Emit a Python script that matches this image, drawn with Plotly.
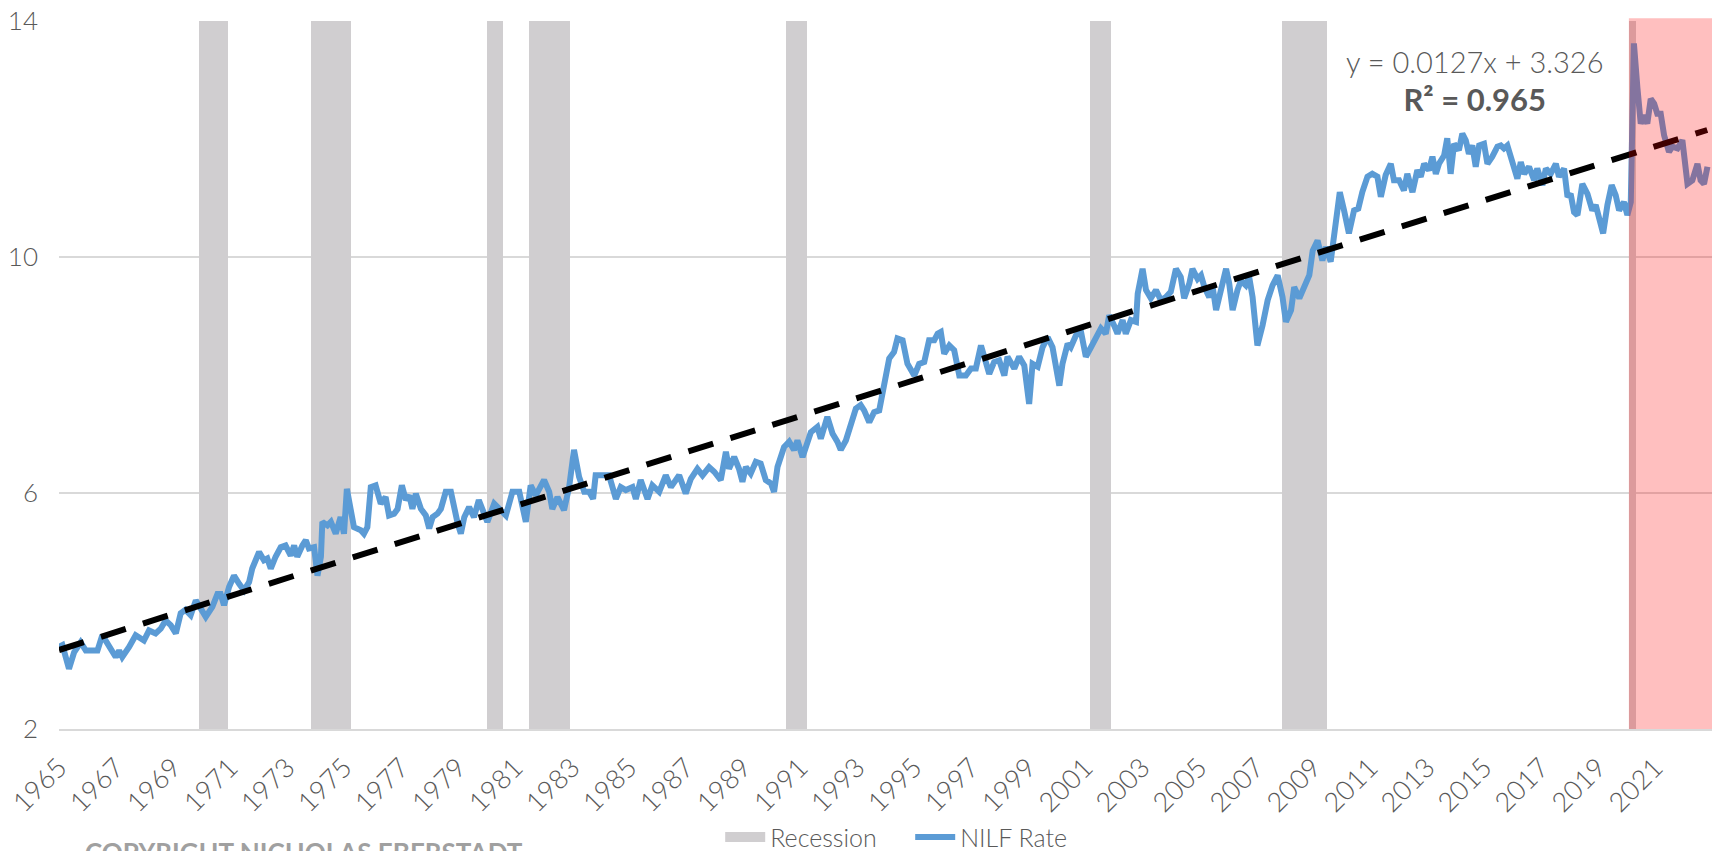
import plotly.graph_objects as go

# ---------------- data ----------------
nilf_dates = [
    1965.00, 1965.12, 1965.35, 1965.53, 1965.76, 1965.94, 1966.17, 1966.35, 1966.52, 1966.70,
    1966.99, 1967.11, 1967.22, 1967.46, 1967.69, 1967.98, 1968.16, 1968.39, 1968.57, 1968.74,
    1968.92, 1969.10, 1969.27, 1969.44, 1969.62, 1969.80, 1969.97, 1970.15, 1970.38, 1970.56,
    1970.67, 1970.79, 1970.97, 1971.14, 1971.32, 1971.49, 1971.67, 1971.78, 1972.02, 1972.19,
    1972.31, 1972.43, 1972.60, 1972.78, 1972.95, 1973.13, 1973.25, 1973.36, 1973.54, 1973.66,
    1973.77, 1973.95, 1974.07, 1974.19, 1974.24, 1974.42, 1974.54, 1974.71, 1974.88, 1975.00,
    1975.10, 1975.24, 1975.35, 1975.59, 1975.70, 1975.82, 1975.94, 1976.11, 1976.29, 1976.46,
    1976.58, 1976.76, 1976.88, 1977.03, 1977.17, 1977.29, 1977.40, 1977.52, 1977.70, 1977.87,
    1977.99, 1978.11, 1978.28, 1978.40, 1978.57, 1978.75, 1978.87, 1978.99, 1979.10, 1979.22,
    1979.39, 1979.56, 1979.73, 1980.03, 1980.27, 1980.50, 1980.68, 1980.91, 1981.15, 1981.38,
    1981.55, 1981.73, 1982.02, 1982.20, 1982.31, 1982.49, 1982.72, 1982.90, 1983.07, 1983.25,
    1983.43, 1983.60, 1983.74, 1983.83, 1984.07, 1984.30, 1984.54, 1984.71, 1984.89, 1985.12,
    1985.24, 1985.41, 1985.65, 1985.82, 1986.06, 1986.29, 1986.47, 1986.64, 1986.76, 1986.99,
    1987.17, 1987.40, 1987.58, 1987.81, 1987.99, 1988.22, 1988.40, 1988.51, 1988.69, 1988.86,
    1988.98, 1989.10, 1989.27, 1989.45, 1989.62, 1989.80, 1989.98, 1990.09, 1990.21, 1990.44,
    1990.62, 1990.79, 1990.91, 1991.09, 1991.26, 1991.38, 1991.61, 1991.73, 1991.96, 1992.14,
    1992.31, 1992.43, 1992.61, 1992.78, 1992.96, 1993.13, 1993.25, 1993.43, 1993.60, 1993.78,
    1993.95, 1994.13, 1994.30, 1994.42, 1994.60, 1994.77, 1995.01, 1995.18, 1995.36, 1995.53,
    1995.71, 1995.83, 1995.94, 1996.06, 1996.24, 1996.41, 1996.59, 1996.82, 1997.00, 1997.17,
    1997.35, 1997.46, 1997.64, 1997.81, 1997.99, 1998.17, 1998.28, 1998.52, 1998.69, 1998.87,
    1999.04, 1999.16, 1999.34, 1999.51, 1999.69, 1999.86, 1999.98, 2000.10, 2000.21, 2000.39,
    2000.50, 2000.68, 2000.86, 2001.03, 2001.21, 2001.38, 2001.56, 2001.73, 2001.85, 2002.02,
    2002.14, 2002.32, 2002.43, 2002.61, 2002.79, 2002.85, 2003.02, 2003.14, 2003.31, 2003.49,
    2003.66, 2003.84, 2004.01, 2004.19, 2004.36, 2004.48, 2004.66, 2004.77, 2004.95, 2005.07,
    2005.19, 2005.36, 2005.48, 2005.60, 2005.77, 2005.95, 2006.06, 2006.18, 2006.35, 2006.47,
    2006.64, 2006.76, 2006.88, 2007.05, 2007.23, 2007.41, 2007.58, 2007.76, 2007.93, 2008.05,
    2008.23, 2008.34, 2008.52, 2008.69, 2008.87, 2008.99, 2009.16, 2009.33, 2009.45, 2009.62,
    2009.80, 2009.94, 2010.09, 2010.26, 2010.44, 2010.59, 2010.73, 2010.91, 2011.08, 2011.26,
    2011.38, 2011.55, 2011.73, 2011.84, 2012.02, 2012.19, 2012.31, 2012.49, 2012.66, 2012.78,
    2012.90, 2013.07, 2013.19, 2013.31, 2013.42, 2013.60, 2013.71, 2013.83, 2013.95, 2014.12,
    2014.24, 2014.36, 2014.47, 2014.59, 2014.71, 2014.83, 2015.00, 2015.12, 2015.29, 2015.47,
    2015.59, 2015.70, 2015.82, 2016.00, 2016.17, 2016.29, 2016.41, 2016.58, 2016.76, 2016.87,
    2017.05, 2017.17, 2017.34, 2017.52, 2017.63, 2017.81, 2017.93, 2018.04, 2018.16, 2018.28,
    2018.45, 2018.63, 2018.80, 2018.92, 2019.04, 2019.18, 2019.33, 2019.48, 2019.62, 2019.74,
    2019.91, 2020.03, 2020.15, 2020.26, 2020.38, 2020.50, 2020.62, 2020.73, 2020.85, 2020.97,
    2021.08, 2021.20, 2021.32, 2021.49, 2021.61, 2021.79, 2021.96, 2022.14, 2022.31, 2022.49,
    2022.60, 2022.72, 2022.84,
]
nilf_values = [
    3.39, 3.42, 3.02, 3.30, 3.47, 3.33, 3.33, 3.33, 3.59, 3.45,
    3.22, 3.33, 3.22, 3.39, 3.59, 3.50, 3.67, 3.62, 3.70, 3.84,
    3.76, 3.62, 3.96, 4.02, 3.93, 4.18, 4.04, 3.90, 4.07, 4.29,
    4.29, 4.10, 4.41, 4.60, 4.46, 4.35, 4.49, 4.72, 5.00, 4.86,
    4.89, 4.72, 4.92, 5.08, 5.11, 4.94, 5.11, 4.92, 5.11, 5.20,
    5.06, 5.08, 4.60, 4.92, 5.51, 5.45, 5.51, 5.31, 5.59, 5.31,
    6.07, 5.71, 5.42, 5.37, 5.31, 5.42, 6.10, 6.13, 5.82, 5.93,
    5.62, 5.65, 5.73, 6.13, 5.88, 5.96, 5.73, 5.99, 5.73, 5.62,
    5.40, 5.59, 5.65, 5.73, 6.02, 6.02, 5.73, 5.48, 5.31, 5.59,
    5.76, 5.59, 5.88, 5.51, 5.82, 5.71, 5.62, 6.02, 6.02, 5.51,
    6.13, 5.96, 6.22, 6.02, 5.73, 5.93, 5.71, 6.10, 6.73, 6.27,
    6.02, 6.02, 5.90, 6.30, 6.30, 6.30, 5.90, 6.10, 6.05, 6.10,
    5.90, 6.22, 5.90, 6.13, 6.02, 6.30, 6.10, 6.22, 6.30, 5.99,
    6.24, 6.41, 6.30, 6.44, 6.36, 6.22, 6.70, 6.41, 6.61, 6.41,
    6.19, 6.44, 6.33, 6.53, 6.50, 6.22, 6.16, 6.02, 6.44, 6.78,
    6.87, 6.73, 6.89, 6.61, 6.87, 7.03, 7.12, 6.92, 7.29, 7.01,
    6.87, 6.73, 6.89, 7.18, 7.43, 7.49, 7.40, 7.20, 7.37, 7.40,
    7.80, 8.28, 8.39, 8.62, 8.59, 8.19, 7.99, 8.19, 8.22, 8.59,
    8.59, 8.70, 8.73, 8.36, 8.50, 8.42, 7.99, 7.99, 8.11, 8.11,
    8.50, 8.31, 8.02, 8.22, 8.25, 7.99, 8.31, 8.11, 8.31, 8.16,
    7.51, 8.19, 8.14, 8.47, 8.64, 8.47, 8.14, 7.82, 8.19, 8.53,
    8.47, 8.67, 8.73, 8.31, 8.47, 8.62, 8.79, 8.70, 9.01, 8.84,
    8.70, 8.93, 8.70, 8.93, 8.90, 9.38, 9.80, 9.44, 9.30, 9.44,
    9.27, 9.32, 9.41, 9.80, 9.66, 9.30, 9.55, 9.80, 9.63, 9.69,
    9.49, 9.32, 9.49, 9.10, 9.49, 9.80, 9.55, 9.10, 9.44, 9.60,
    9.52, 9.66, 9.32, 8.50, 8.84, 9.27, 9.52, 9.69, 9.32, 8.90,
    9.10, 9.49, 9.30, 9.52, 9.69, 10.11, 10.28, 9.94, 10.17, 9.92,
    10.51, 11.10, 10.79, 10.40, 10.79, 10.82, 11.10, 11.36, 11.41, 11.36,
    11.02, 11.39, 11.58, 11.30, 11.30, 11.13, 11.41, 11.10, 11.47, 11.36,
    11.58, 11.47, 11.70, 11.41, 11.58, 11.72, 12.01, 11.41, 11.92, 11.81,
    12.09, 11.98, 11.75, 11.89, 11.53, 11.89, 11.92, 11.58, 11.70, 11.87,
    11.89, 11.84, 11.89, 11.64, 11.33, 11.61, 11.41, 11.53, 11.30, 11.50,
    11.22, 11.50, 11.41, 11.58, 11.36, 11.50, 11.02, 11.07, 10.76, 10.71,
    11.24, 11.07, 10.79, 10.88, 10.62, 10.40, 10.88, 11.22, 11.05, 10.79,
    10.93, 10.71, 10.93, 13.62, 12.88, 12.26, 12.40, 12.26, 12.68, 12.60,
    12.43, 12.43, 12.06, 11.78, 11.87, 11.84, 11.98, 11.24, 11.30, 11.58,
    11.30, 11.24, 11.53,
]

# NBER recessions (first and last month)
recession_starts = ["1969-12", "1973-11", "1980-01", "1981-07", "1990-07", "2001-03", "2007-12", "2020-02"]
recession_ends = ["1970-11", "1975-03", "1980-07", "1982-11", "1991-03", "2001-11", "2009-06", "2020-04"]

# Trend line as printed on the chart (x = month index starting at 1)
trend_slope = 0.0127
trend_intercept = 3.326
trend_first_month = "1965-01"
trend_last_month = "2022-11"

highlight_start = "2020-02"   # shaded pandemic period start
highlight_end_year = 2023.0

tick_years = list(range(1965, 2022, 2))
tick_labels = [str(y) for y in tick_years]
y_ticks = [2, 6, 10, 14]
y_tick_labels = ["2", "6", "10", "14"]

equation_text = "y = 0.0127x + 3.326<br><span style='font-size:31px'><b>R² = 0.965</b></span>"
copyright_text = "<b>COPYRIGHT NICHOLAS EBERSTADT</b>"


def month_to_year(m):
    y, mo = m.split("-")
    return int(y) + (int(mo) - 1) / 12.0


def month_index(m):
    y, mo = m.split("-")
    return int(y) * 12 + int(mo) - 1


# recession monthly bars
rec_x = []
for s, e in zip(recession_starts, recession_ends):
    for k in range(month_index(s), month_index(e) + 1):
        rec_x.append(k / 12.0 + 1 / 24.0)
rec_y = [12] * len(rec_x)

# trend endpoints
n_months = month_index(trend_last_month) - month_index(trend_first_month) + 1
trend_x = [month_to_year(trend_first_month), month_to_year(trend_last_month)]
trend_y = [trend_intercept + trend_slope * 1, trend_intercept + trend_slope * n_months]

FONT = "Lato"
TXT = "#595959"
GREY = "#D0CED0"

fig = go.Figure()
fig.add_trace(go.Bar(
    x=rec_x, y=rec_y, base=2, width=1 / 12.0,
    marker=dict(color=GREY, line=dict(width=0)),
    name="Recession", showlegend=False, legendgroup="rec", hoverinfo="skip",
))
# legend entry for the recession shading (wide grey swatch like the original)
fig.add_trace(go.Scatter(
    x=[None], y=[None], mode="lines", name="Recession", legendgroup="rec",
    line=dict(color=GREY, width=12),
))
fig.add_trace(go.Scatter(
    x=nilf_dates, y=nilf_values, mode="lines", name="NILF Rate",
    line=dict(color="#5B9BD5", width=6),
))
fig.add_trace(go.Scatter(
    x=trend_x, y=trend_y, mode="lines", showlegend=False,
    line=dict(color="#000000", width=6, dash="26px,18px"),
))

fig.add_shape(
    type="rect", xref="x", yref="paper",
    x0=month_to_year(highlight_start), x1=highlight_end_year, y0=0, y1=1.004,
    fillcolor="rgba(255,0,0,0.25)", line=dict(width=0), layer="above",
)

fig.add_annotation(x=2014.67, y=12.99, xref="x", yref="y", text=equation_text,
                   showarrow=False, align="center",
                   font=dict(family=FONT, size=29, color=TXT, weight=300))
fig.add_annotation(x=0.0145, y=-0.149, xref="paper", yref="paper", text=copyright_text,
                   xanchor="left", yanchor="top", showarrow=False,
                   font=dict(family=FONT, size=26, color="#A0A0A0"))

fig.update_layout(
    width=1717, height=851,
    margin=dict(l=59, r=5, t=21, b=122, autoexpand=False),
    paper_bgcolor="white", plot_bgcolor="white",
    bargap=0,
    font=dict(family=FONT, color=TXT),
    legend=dict(orientation="h", x=0.4, xanchor="left", y=-0.153, yanchor="middle",
                font=dict(family=FONT, size=25, color=TXT, weight=300),
                itemwidth=40, entrywidth=135, traceorder="normal", bgcolor="rgba(0,0,0,0)"),
    xaxis=dict(range=[1965.0, 2023.0], tickmode="array", tickvals=tick_years, ticktext=tick_labels,
               tickangle=-45, showgrid=False, zeroline=False, showline=True,
               linecolor="#D9D9D9", linewidth=2, ticks="", ticklabelstandoff=10,
               tickfont=dict(family=FONT, size=27, color=TXT, weight=300)),
    yaxis=dict(range=[2, 14], tickmode="array", tickvals=y_ticks, ticktext=y_tick_labels,
               showgrid=True, gridcolor="#D9D9D9", gridwidth=2, zeroline=False, showline=False,
               ticks="", ticklabelstandoff=20,
               tickfont=dict(family=FONT, size=26, color=TXT, weight=300)),
    hovermode=False,
)

fig.write_html(
    "out.html",
    config={"displayModeBar": False},
    post_script="document.body.style.margin='0';document.body.style.overflow='hidden';",
)
